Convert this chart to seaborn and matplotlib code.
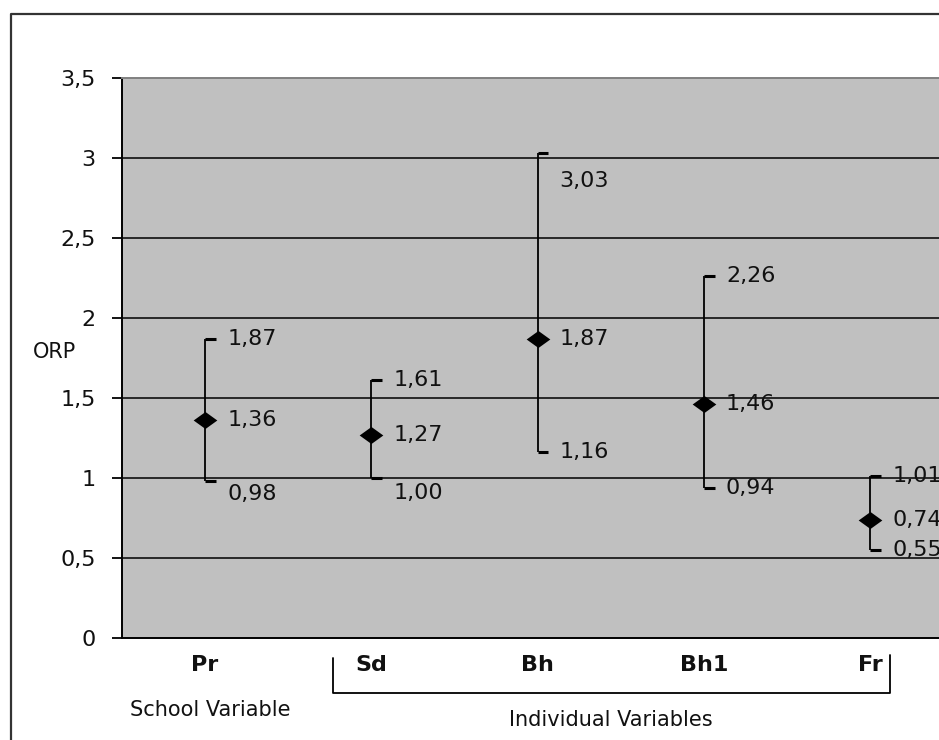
import numpy as np
import pandas as pd
import matplotlib
matplotlib.use("Agg")
import matplotlib.pyplot as plt
from matplotlib.lines import Line2D
import seaborn as sns

# data
categories = ["Pr", "Sd", "Bh", "Bh1", "Fr"]
orp_high = [1.87, 1.61, 3.03, 2.26, 1.01]
orp_mean = [1.36, 1.27, 1.87, 1.46, 0.74]
orp_low = [0.98, 1.00, 1.16, 0.94, 0.55]
y_ticks = [0, 0.5, 1, 1.5, 2, 2.5, 3, 3.5]

sns.set_theme(style="white")
plt.rcParams['font.family'] = ['DejaVu Sans']

df = pd.DataFrame({"var": categories, "high": orp_high, "mean": orp_mean, "low": orp_low})

def tick_fmt(v):
    return f"{v:g}".replace(".", ",")

def value_fmt(v):
    return f"{v:.2f}".replace(".", ",")

fig = plt.figure(figsize=(9.39, 7.40), dpi=100)
ax = fig.add_axes([122 / 939, 102 / 740, 831 / 939, 560 / 740])
ax.set_facecolor("#c0c0c0")

# horizontal grid
for v in y_ticks[1:-1]:
    ax.axhline(v, color="black", lw=1.1, zorder=1)

xs = np.arange(len(categories))
ax.vlines(xs, df["low"], df["high"], color="black", lw=1.3, zorder=2)
ax.hlines(df["high"], xs, xs + 0.065, color="black", lw=2.2, zorder=2)
ax.hlines(df["low"], xs, xs + 0.065, color="black", lw=2.2, zorder=2)

diamond = [(-1, 0), (0, 0.72), (1, 0), (0, -0.72), (-1, 0)]
sns.scatterplot(data=df, x="var", y="mean", marker=diamond, s=290, color="black",
                edgecolor="black", linewidth=0, zorder=3, ax=ax)

# value labels (small vertical nudges where the original moved them)
nudge = {("Pr", "low"): -9, ("Sd", "low"): -11, ("Bh", "high"): -20}
for i, row in df.iterrows():
    for key in ["high", "mean", "low"]:
        dy = nudge.get((row["var"], key), 0)
        ax.annotate(value_fmt(row[key]), (i, row[key]), xytext=(16, dy),
                    textcoords="offset points", ha="left", va="center", fontsize=16,
                    color="#111111", zorder=4, annotation_clip=False)

ax.set_xlim(-0.5, len(categories) - 0.5)
ax.set_ylim(0, 3.5)
ax.set_yticks(y_ticks)
ax.set_yticklabels([tick_fmt(v) for v in y_ticks], fontsize=16, color="#111111")
ax.set_xticks(xs)
ax.set_xticklabels(categories, fontsize=16, fontweight="bold", color="#111111")
ax.set_xticks(np.arange(len(categories) + 1) - 0.5, minor=True)
ax.tick_params(axis="x", which="major", length=0, pad=12)
ax.tick_params(axis="x", which="minor", direction="inout", length=11, width=1.3, color="black")
ax.tick_params(axis="y", which="major", direction="out", length=7, width=1.3, color="black",
               pad=12, left=True)
ax.set_xlabel("")
ax.set_ylabel("ORP", rotation=0, fontsize=15, color="#111111", labelpad=0,
              va="center", ha="left")
ax.yaxis.set_label_coords(-0.107, 0.511)

for side in ["left", "bottom"]:
    ax.spines[side].set_color("black")
    ax.spines[side].set_linewidth(1.4)
ax.spines["top"].set_color("#808080")
ax.spines["top"].set_linewidth(1.4)
ax.spines["right"].set_visible(False)

# bracket for the individual variables
ax.plot([0.77, 0.77, 4.12, 4.12], [-0.125, -0.344, -0.344, -0.105], color="black",
        lw=1.3, clip_on=False)
ax.text(0.03, -0.45, "School Variable", ha="center", va="center", fontsize=15, color="#111111")
ax.text(2.44, -0.51, "Individual Variables", ha="center", va="center", fontsize=15,
        color="#111111")

# outer frame of the chart area (cut off at right and bottom)
fx, fy = 11 / 939, 1 - 14 / 740
fig.add_artist(Line2D([fx, fx, 1.0], [0.0, fy, fy], color="#333333", lw=1.6))

fig.savefig("out.png", dpi=100)
